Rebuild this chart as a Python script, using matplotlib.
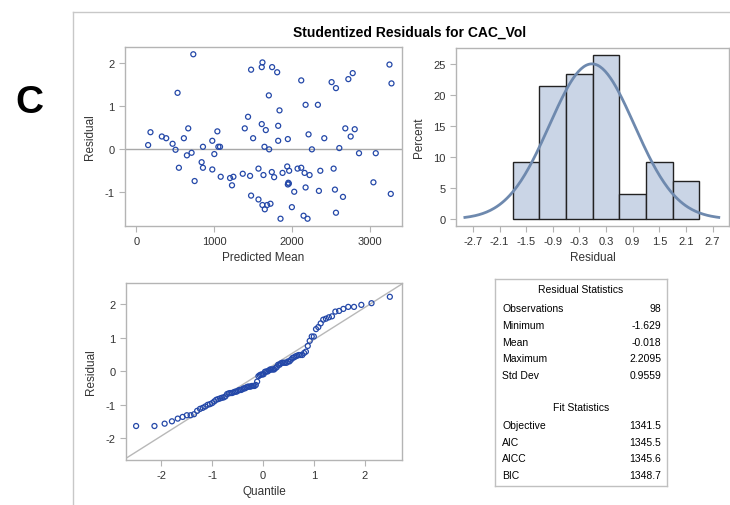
import statistics
import numpy as np
import matplotlib
matplotlib.use('Agg')
import matplotlib.pyplot as plt
from matplotlib.lines import Line2D

plt.rcParams['font.family'] = ['Liberation Sans', 'DejaVu Sans']
plt.rcParams['axes.unicode_minus'] = False

# ── Datos ──────────────────────────────────────────────────────────────────
pred_mean = [150, 180, 326, 382, 464, 502, 528, 545, 609, 648, 665, 708, 730, 747,
             837, 854, 854, 974, 974, 1000, 1039, 1052, 1073, 1082, 1202, 1245, 1227,
             1365, 1391, 1433, 1459, 1472, 1472, 1498, 1567, 1567, 1609, 1618, 1609,
             1618, 1631, 1644, 1648, 1661, 1678, 1700, 1704, 1721, 1738, 1742, 1768,
             1807, 1820, 1820, 1837, 1850, 1876, 1936, 1944, 1944, 1957, 1961, 1996,
             2026, 2069, 2116, 2116, 2146, 2159, 2172, 2172, 2197, 2210, 2223, 2253,
             2330, 2343, 2361, 2412, 2506, 2532, 2549, 2562, 2562, 2605, 2652, 2682,
             2721, 2751, 2777, 2803, 2858, 3043, 3073, 3249, 3266, 3275, 1950]
residual = [0.09, 0.39, 0.29, 0.25, 0.12, -0.02, 1.31, -0.44, 0.25, -0.15, 0.48, -0.09,
            2.21, -0.75, -0.31, -0.44, 0.05, 0.19, -0.48, -0.12, 0.41, 0.05, 0.05, -0.65,
            -0.68, -0.65, -0.85, -0.58, 0.48, 0.75, -0.63, 1.85, -1.09, 0.25, -0.46, -1.18,
            1.91, 2.02, 0.58, -1.31, -0.61, 0.05, -1.41, 0.44, -1.31, 1.25, -0.01, -1.28,
            -0.54, 1.91, -0.66, 1.79, 0.54, 0.19, 0.90, -1.63, -0.56, -0.41, 0.23, -0.83,
            -0.81, -0.51, -1.36, -1.00, -0.46, -0.44, 1.60, -1.56, -0.56, 1.03, -0.90,
            -1.63, 0.34, -0.61, -0.01, 1.03, -0.98, -0.51, 0.25, 1.56, -0.46, -0.95, 1.42,
            -1.49, 0.02, -1.12, 0.48, 1.63, 0.29, 1.77, 0.46, -0.10, -0.78, -0.10, 1.97,
            -1.05, 1.53, -0.79]

bin_edges = [-1.8, -1.2, -0.6, 0.0, 0.6, 1.2, 1.8, 2.4]
hist_ticks = [-2.7, -2.1, -1.5, -0.9, -0.3, 0.3, 0.9, 1.5, 2.1, 2.7]

res_stats = [('Observations', '98'), ('Minimum', '-1.629'), ('Mean', '-0.018'),
             ('Maximum', '2.2095'), ('Std Dev', '0.9559')]
fit_stats = [('Objective', '1341.5'), ('AIC', '1345.5'), ('AICC', '1345.6'),
             ('BIC', '1348.7')]
res_mu, res_sd = -0.018, 0.9559

# ── Estilo ──────────────────────────────────────────────────────────────────
C_MARK  = '#2448A8'
C_FRAME = '#B4B4B4'
C_TEXT  = '#333333'
C_BAR   = '#CAD5E6'
C_CURVE = '#6E89AE'
W, H = 730, 506


def px_axes(fig, l, t, r, b):
    return fig.add_axes([l / W, (H - b) / H, (r - l) / W, (b - t) / H])


def style(ax):
    for s in ax.spines.values():
        s.set_color(C_FRAME)
        s.set_linewidth(1.0)
    ax.tick_params(colors=C_FRAME, labelcolor=C_TEXT, labelsize=8, length=4, width=0.8)


fig = plt.figure(figsize=(W / 100, H / 100), dpi=100)
fig.patch.set_facecolor('white')

# marco exterior
fig.add_artist(Line2D([73 / W, 73 / W], [0, 1 - 13 / H], color='#C8C8C8', lw=1.0,
                      transform=fig.transFigure))
fig.add_artist(Line2D([73 / W, 1], [1 - 13 / H, 1 - 13 / H], color='#C8C8C8', lw=1.0,
                      transform=fig.transFigure))

fig.text(29 / W, 1 - 103 / H, 'C', fontsize=28, fontweight='bold', ha='center', va='center')
fig.text(410 / W, 1 - 33 / H, 'Studentized Residuals for CAC_Vol', fontsize=10,
         fontweight='bold', ha='center', va='center')

# ── residual vs predicho
ax1 = px_axes(fig, 125, 48, 402, 227)
style(ax1)
ax1.axhline(0, color='#A8A8A8', lw=1.0, zorder=1)
ax1.scatter(pred_mean, residual, s=13, facecolors='none', edgecolors=C_MARK,
            linewidths=0.9, zorder=3)
ax1.set_xlim(-147, 3410)
ax1.set_ylim(-1.8, 2.38)
ax1.set_xticks([0, 1000, 2000, 3000])
ax1.set_yticks([-1, 0, 1, 2])
ax1.set_xlabel('Predicted Mean', fontsize=8.5, color=C_TEXT, labelpad=3)
ax1.set_ylabel('Residual', fontsize=8.5, color=C_TEXT, labelpad=6)

# ── histograma
ax2 = px_axes(fig, 456, 49, 729, 227)
style(ax2)
ax2.hist(residual, bins=bin_edges, weights=np.full(len(residual), 100 / len(residual)),
         color=C_BAR, edgecolor='#222222', linewidth=1.0, zorder=2)
xs = np.linspace(-2.88, 2.84, 200)
ys = [statistics.NormalDist(res_mu, res_sd).pdf(x) * 0.6 * 100 for x in xs]
ax2.plot(xs, ys, color=C_CURVE, lw=2.0, zorder=3)
ax2.set_xlim(-3.08, 3.07)
ax2.set_ylim(-1.1, 27.6)
ax2.set_xticks(hist_ticks)
ax2.set_xticklabels([f'{t:.1f}' for t in hist_ticks])
ax2.set_yticks([0, 5, 10, 15, 20, 25])
ax2.set_xlabel('Residual', fontsize=8.5, color=C_TEXT, labelpad=3)
ax2.set_ylabel('Percent', fontsize=8.5, color=C_TEXT, labelpad=6)

# ── gráfico Q-Q
ax3 = px_axes(fig, 126, 284, 402, 461)
style(ax3)
n = len(residual)
quant = [statistics.NormalDist().inv_cdf((i + 1 - 0.375) / (n + 0.25)) for i in range(n)]
ax3.plot([-3, 3], [res_mu - 3 * res_sd, res_mu + 3 * res_sd], color='#B8B8B8', lw=1.0, zorder=1)
ax3.scatter(quant, sorted(residual), s=13, facecolors='none', edgecolors=C_MARK,
            linewidths=0.9, zorder=3)
ax3.set_xlim(-2.69, 2.73)
ax3.set_ylim(-2.64, 2.62)
ax3.set_xticks([-2, -1, 0, 1, 2])
ax3.set_yticks([-2, -1, 0, 1, 2])
ax3.set_xlabel('Quantile', fontsize=8.5, color=C_TEXT, labelpad=3)
ax3.set_ylabel('Residual', fontsize=8.5, color=C_TEXT, labelpad=6)

# ── tabla de estadísticas
ax4 = px_axes(fig, 495, 280, 667, 487)
ax4.set_xlim(495, 667)
ax4.set_ylim(487, 280)
ax4.set_xticks([])
ax4.set_yticks([])
for s in ax4.spines.values():
    s.set_color('#C0C0C0')
    s.set_linewidth(1.0)
fs = 7.5
ax4.text(581, 290, 'Residual Statistics', fontsize=fs, ha='center', va='center')
for i, (k, v) in enumerate(res_stats):
    y = 309 + i * 16.8
    ax4.text(502, y, k, fontsize=fs, ha='left', va='center')
    ax4.text(661, y, v, fontsize=fs, ha='right', va='center')
ax4.text(581, 408, 'Fit Statistics', fontsize=fs, ha='center', va='center')
for i, (k, v) in enumerate(fit_stats):
    y = 426 + i * 16.6
    ax4.text(502, y, k, fontsize=fs, ha='left', va='center')
    ax4.text(661, y, v, fontsize=fs, ha='right', va='center')

plt.savefig('out.png', dpi=100, facecolor='white')
